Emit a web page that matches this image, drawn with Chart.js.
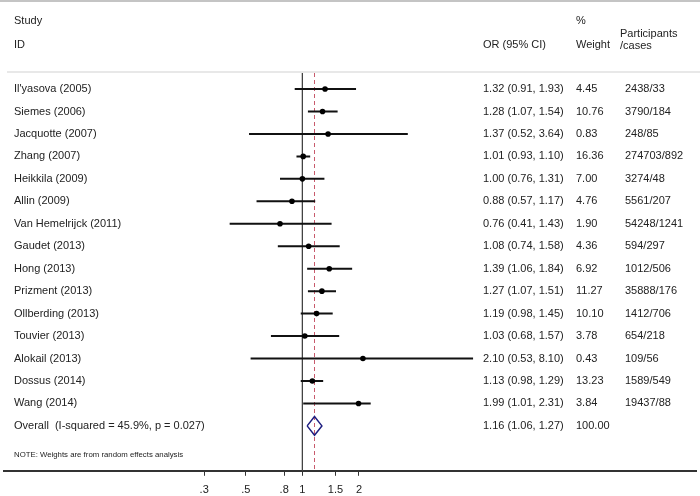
<!DOCTYPE html>
<html>
<head>
<meta charset="utf-8">
<script src="https://cdn.jsdelivr.net/npm/chart.js@4.4.1/dist/chart.umd.min.js"></script>
<style>
  html, body { margin: 0; padding: 0; background: #fff; overflow: hidden; }
  #wrap { width: 700px; height: 505px; position: relative; }
</style>
</head>
<body>
<div id="wrap"><canvas id="forest"></canvas></div>
<script>
// study rows, top to bottom
const studies = [
  "Il'yasova (2005)", "Siemes (2006)", "Jacquotte (2007)", "Zhang (2007)",
  "Heikkila (2009)", "Allin (2009)", "Van Hemelrijck (2011)", "Gaudet (2013)",
  "Hong (2013)", "Prizment (2013)", "Ollberding (2013)", "Touvier (2013)",
  "Alokail (2013)", "Dossus (2014)", "Wang (2014)"
];
const orVals = [1.32, 1.28, 1.37, 1.01, 1.00, 0.88, 0.76, 1.08, 1.39, 1.27, 1.19, 1.03, 2.10, 1.13, 1.99];
const ciLow  = [0.91, 1.07, 0.52, 0.93, 0.76, 0.57, 0.41, 0.74, 1.06, 1.07, 0.98, 0.68, 0.53, 0.98, 1.01];
const ciHigh = [1.93, 1.54, 3.64, 1.10, 1.31, 1.17, 1.43, 1.58, 1.84, 1.51, 1.45, 1.57, 8.10, 1.29, 2.31];
const weights = [4.45, 10.76, 0.83, 16.36, 7.00, 4.76, 1.90, 4.36, 6.92, 11.27, 10.10, 3.78, 0.43, 13.23, 3.84];
const partCases = [
  "2438/33", "3790/184", "248/85", "274703/892", "3274/48", "5561/207", "54248/1241",
  "594/297", "1012/506", "35888/176", "1412/706", "654/218", "109/56", "1589/549", "19437/88"
];

const overallLabel = "Overall  (I-squared = 45.9%, p = 0.027)";
const overallOr = 1.16;
const overallLow = 1.06;
const overallHigh = 1.27;
const overallWeight = 100.00;
const noteText = "NOTE: Weights are from random effects analysis";

const tickVals = [0.3, 0.5, 0.8, 1, 1.5, 2];
const tickLabels = [".3", ".5", ".8", "1", "1.5", "2"];

const FONT = '"Liberation Sans", Arial, sans-serif';
const overallRow = studies.length;      // 15
const noteRow = overallRow + 1.3;
const yMin = -0.714, yMax = 17;

const fmt = v => v.toFixed(2);

// whisker segments, separated by gaps
const ciData = [];
studies.forEach((s, i) => {
  ciData.push({ x: ciLow[i], y: i }, { x: ciHigh[i], y: i }, { x: null, y: null });
});
const pointData = orVals.map((v, i) => ({ x: v, y: i }));
const diamondData = [
  { x: overallLow, y: overallRow },
  { x: overallOr, y: overallRow - 0.42 },
  { x: overallHigh, y: overallRow },
  { x: overallOr, y: overallRow + 0.42 },
  { x: overallLow, y: overallRow }
];

const textPlugin = {
  id: "forestText",
  beforeDraw(chart) {
    const c = chart.ctx;
    c.save();
    c.fillStyle = "#c4c4c4";
    c.fillRect(0, 0, 700, 2);
    c.fillStyle = "#e8e8e8";
    c.fillRect(7, 71, 693, 2);
    c.restore();
  },
  afterDraw(chart) {
    const c = chart.ctx;
    const y = chart.scales.y;
    c.save();
    c.fillStyle = "#222";
    c.textBaseline = "middle";
    c.font = "11px " + FONT;
    // header
    c.fillText("Study", 14, 21);
    c.fillText("ID", 14, 45);
    c.fillText("OR (95% CI)", 483, 45);
    c.fillText("%", 576, 21);
    c.fillText("Weight", 576, 45);
    c.fillText("Participants", 620, 34);
    c.fillText("/cases", 620, 46);
    // rows
    studies.forEach((s, i) => {
      const py = y.getPixelForValue(i);
      c.fillText(s, 14, py);
      c.fillText(`${fmt(orVals[i])} (${fmt(ciLow[i])}, ${fmt(ciHigh[i])})`, 483, py);
      c.fillText(fmt(weights[i]), 576, py);
      c.fillText(partCases[i], 625, py);
    });
    const oy = y.getPixelForValue(overallRow);
    c.fillText(overallLabel, 14, oy);
    c.fillText(`${fmt(overallOr)} (${fmt(overallLow)}, ${fmt(overallHigh)})`, 483, oy);
    c.fillText(fmt(overallWeight), 576, oy);
    c.font = "7.8px " + FONT;
    c.fillText(noteText, 14, y.getPixelForValue(noteRow));
    c.restore();
  }
};

new Chart(document.getElementById("forest"), {
  type: "scatter",
  data: {
    datasets: [
      { label: "OR", data: pointData, pointRadius: 2.8, pointBackgroundColor: "#000",
        pointBorderColor: "#000", pointBorderWidth: 0, showLine: false },
      { label: "CI", data: ciData, showLine: true, spanGaps: false, pointRadius: 0,
        borderColor: "#111", borderWidth: 2 },
      { label: "Overall", data: diamondData, showLine: true, pointRadius: 0,
        borderColor: "#1f1f80", borderWidth: 1.5, fill: false },
      { label: "Pooled", data: [{ x: overallOr, y: yMin }, { x: overallOr, y: yMax }],
        showLine: true, pointRadius: 0, borderColor: "#c85a6c", borderWidth: 1, borderDash: [4, 3] },
      { label: "Null", data: [{ x: 1, y: yMin }, { x: 1, y: yMax }],
        showLine: true, pointRadius: 0, borderColor: "#444", borderWidth: 1 }
    ]
  },
  options: {
    responsive: true,
    maintainAspectRatio: false,
    animation: false,
    events: [],
    layout: { padding: { top: 73, left: 0, right: 2, bottom: 0 } },
    plugins: { legend: { display: false }, tooltip: { enabled: false } },
    scales: {
      x: {
        type: "logarithmic",
        min: 0.0258,
        max: 124.5,
        border: { display: true, color: "#333", width: 2 },
        grid: { display: true, drawOnChartArea: false, drawTicks: true, tickLength: 5, color: "#333" },
        afterBuildTicks: scale => { scale.ticks = tickVals.map(v => ({ value: v })); },
        ticks: {
          autoSkip: false, maxRotation: 0, padding: 8, color: "#222",
          font: { family: FONT, size: 11 },
          callback: (v, i) => tickLabels[i]
        }
      },
      y: { type: "linear", reverse: true, min: yMin, max: yMax, display: false }
    }
  },
  plugins: [textPlugin]
});
</script>
</body>
</html>
